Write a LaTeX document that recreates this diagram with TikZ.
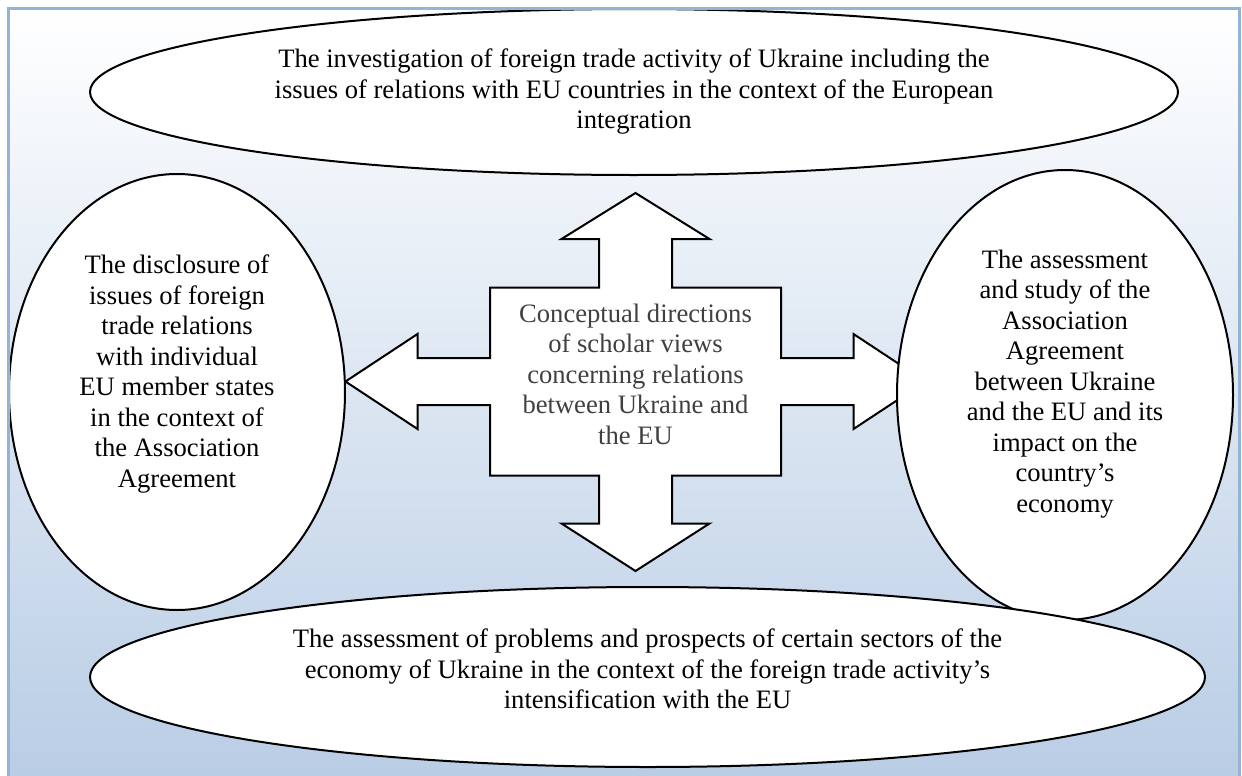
\documentclass[tikz,border=0pt]{standalone}
\usepackage{fontspec}
\setmainfont{Liberation Serif}
\usetikzlibrary{shapes.geometric,calc}
\definecolor{framecol}{RGB}{149,179,215}
\definecolor{bgblue}{RGB}{185,205,229}
\definecolor{hubgray}{RGB}{64,64,64}
\tikzset{
    % oval around each direction
    bubble/.style={
           ellipse,
           draw,
           line width=1pt,
           fill=white,
           inner sep=0pt},
    % text inside the shapes
    txt/.style={
           align=center,
           inner sep=0pt,
           font=\fontsize{13.3}{15.25}\selectfont}
}

\begin{document}
\begin{tikzpicture}[x=0.5pt,y=-0.5pt]

\useasboundingbox (0,0) rectangle (1242,776);

% background
\shade [top color=white, bottom color=bgblue] (8,8) rectangle (1239,776);

% cross arrow
\coordinate (hub) at (635.5,381.5);
\draw [line width=1pt, fill=white, shift={(hub)}]
      (0,-188.5) -- (74,-142.5) -- (36.5,-142.5) -- (36.5,-94) -- (145.5,-94)
      -- (145.5,-23.5) -- (218,-23.5) -- (218,-47.5) -- (290,0)
      -- (218,47.5) -- (218,23.5) -- (145.5,23.5) -- (145.5,94)
      -- (36.5,94) -- (36.5,142) -- (74,142) -- (0,189.5)
      -- (-74,142) -- (-36.5,142) -- (-36.5,94) -- (-145.5,94)
      -- (-145.5,23.5) -- (-218,23.5) -- (-218,47.5) -- (-290,0)
      -- (-218,-47.5) -- (-218,-23.5) -- (-145.5,-23.5) -- (-145.5,-94)
      -- (-36.5,-94) -- (-36.5,-142.5) -- (-74,-142.5) -- cycle;
\node [txt, text=hubgray] (hubText) at ($(hub)+(0,-7.5)$)
      {Conceptual directions\\ of scholar views\\ concerning relations\\
       between Ukraine and\\ the EU};

% ovals
\node [bubble, minimum width=544pt, minimum height=83pt] (topOval) at (634,92) {};
\node [bubble, minimum width=168pt, minimum height=218pt] (leftOval) at (177,392) {};
\node [bubble, minimum width=168pt, minimum height=225pt] (rightOval) at (1065,395) {};
\node [bubble, minimum width=557.5pt, minimum height=90pt] (bottomOval) at (647.5,677) {};

% texts
\node [txt] (topText) at (topOval.center)
      {The investigation of foreign trade activity of Ukraine including the\\
       issues of relations with EU countries in the context of the European\\
       integration};
\node [txt] (leftText) at ($(leftOval.center)+(0,-18)$)
      {The disclosure of\\ issues of foreign\\ trade relations\\ with individual\\
       EU member states\\ in the context of\\ the Association\\ Agreement};
\node [txt] (rightText) at ($(rightOval.center)+(0,-11)$)
      {The assessment\\ and study of the\\ Association\\ Agreement\\
       between Ukraine\\ and the EU and its\\ impact on the\\ country’s\\ economy};
\node [txt] (bottomText) at ($(bottomOval.center)+(0,-8)$)
      {The assessment of problems and prospects of certain sectors of the\\
       economy of Ukraine in the context of the foreign trade activity’s\\
       intensification with the EU};

% frame
\draw [framecol, line width=1.5pt] (8,776) -- (8,8) -- (1239,8) -- (1239,776);

\end{tikzpicture}
\end{document}
